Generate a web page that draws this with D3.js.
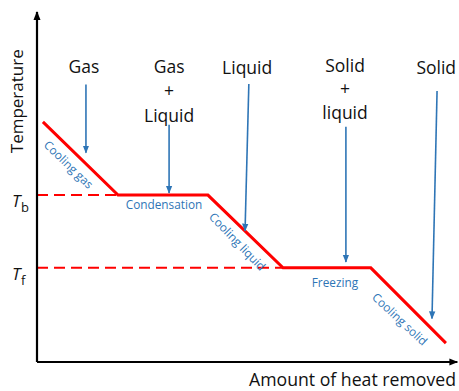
<!DOCTYPE html>
<html>
<head>
<meta charset="utf-8">
<script src="https://cdn.jsdelivr.net/npm/d3@7"></script>
<style>
  html, body { margin: 0; padding: 0; background: #fff; }
  svg { display: block; }
</style>
</head>
<body>
<svg id="chart" width="459" height="391"></svg>
<script>
// Cooling curve: heat removed (x) vs temperature (y), arbitrary units 0-100
const heat = [1.4, 19.2, 40.5, 58.3, 79.1, 96.9];
const temperature = [68.6, 47.7, 47.7, 26.9, 26.9, 5.4];

// Reference temperatures
const tempLabels = ["b", "f"];
const tempValues = [47.7, 26.9];

// Phase labels above the curve, with arrows pointing down to the curve
const phaseNames = [["Gas"], ["Gas", "+", "Liquid"], ["Liquid"], ["Solid", "+", "liquid"], ["Solid"]];
const phaseX = [11.1, 31.3, 49.8, 73.0, 94.6];
const phaseTextY = [82.7, 82.7, 82.3, 83.0, 82.3];
const phaseLineGap = [24.5, 24.5, 24.5, 23.5, 24.5];
const arrowTopX = [11.6, 31.3, 50.2, 73.2, 94.8];
const arrowTopY = [79.3, 67.8, 79.4, 67.2, 77.4];
const arrowBotX = [11.6, 31.3, 49.3, 73.2, 93.6];
const arrowBotY = [59.8, 48.3, 37.5, 28.6, 12.4];

// Process labels along each segment
const processNames = ["Cooling gas", "Condensation", "Cooling liquid", "Freezing", "Cooling solid"];
const processX = [7.3, 30.1, 47.3, 70.6, 85.8];
const processY = [56.2, 44.6, 34.2, 22.2, 12.0];
const processAngle = [44, 0, 46, 0, 43];

const svg = d3.select("#chart");
const x = d3.scaleLinear().domain([0, 100]).range([37, 459]);
const y = d3.scaleLinear().domain([0, 100]).range([362, 12]);

const red = "#ff0000";
const blue = "#2e75b6";
const font = "'Open Sans', 'Noto Sans', sans-serif";

const defs = svg.append("defs");
defs.append("marker").attr("id", "axisHead")
  .attr("viewBox", "0 0 10 10").attr("refX", 9).attr("refY", 5)
  .attr("markerWidth", 4).attr("markerHeight", 4).attr("orient", "auto")
  .append("path").attr("d", "M0,1 L10,5 L0,9 Z").attr("fill", "#000");
defs.append("marker").attr("id", "blueHead")
  .attr("viewBox", "0 0 10 10").attr("refX", 9).attr("refY", 5)
  .attr("markerWidth", 5).attr("markerHeight", 5).attr("orient", "auto")
  .append("path").attr("d", "M0,1 L10,5 L0,9 Z").attr("fill", blue);

// Dashed reference lines for boiling and freezing points
const pts = heat.map((h, i) => [h, temperature[i]]);
const ends = [pts[1][0], pts[3][0]];
svg.selectAll("line.ref").data(tempValues).join("line")
  .attr("class", "ref")
  .attr("x1", x(0)).attr("x2", (d, i) => x(ends[i]))
  .attr("y1", d => y(d)).attr("y2", d => y(d))
  .attr("stroke", red).attr("stroke-width", 2)
  .attr("stroke-dasharray", "11,6");

// Axes with arrowheads
svg.append("path")
  .attr("d", `M${x(0)},${y(0)} L${x(0)},${y(100)}`)
  .attr("stroke", "#000").attr("stroke-width", 2.2).attr("fill", "none")
  .attr("marker-end", "url(#axisHead)");
svg.append("path")
  .attr("d", `M${x(0)},${y(0)} L${x(99.6)},${y(0)}`)
  .attr("stroke", "#000").attr("stroke-width", 2.2).attr("fill", "none")
  .attr("marker-end", "url(#axisHead)");

// Cooling curve
svg.append("path").datum(pts)
  .attr("d", d3.line().x(d => x(d[0])).y(d => y(d[1])))
  .attr("fill", "none").attr("stroke", red).attr("stroke-width", 3)
  .attr("stroke-linejoin", "miter");

// Axis titles
svg.append("text")
  .attr("transform", `translate(23,${y(74.5)}) rotate(-90)`)
  .attr("text-anchor", "middle").attr("font-family", font).attr("font-size", 17)
  .attr("fill", "#111").text("Temperature");
svg.append("text")
  .attr("x", 249).attr("y", 386)
  .attr("font-family", font).attr("font-size", 17.5).attr("fill", "#111")
  .attr("textLength", 207).attr("lengthAdjust", "spacingAndGlyphs")
  .text("Amount of heat removed");

// T_b / T_f labels
const tl = svg.selectAll("text.tl").data(tempValues).join("text")
  .attr("class", "tl").attr("x", 12).attr("y", d => y(d) + 12)
  .attr("font-family", font).attr("fill", "#111");
tl.append("tspan").attr("font-style", "italic").attr("font-size", 17).text("T");
tl.append("tspan").attr("font-size", 13).attr("dx", 0.5).attr("dy", 5).text((d, i) => tempLabels[i]);

// Phase labels
phaseNames.forEach((lines, i) => {
  const t = svg.append("text")
    .attr("x", x(phaseX[i])).attr("y", y(phaseTextY[i]))
    .attr("text-anchor", "middle").attr("font-family", font)
    .attr("font-size", 17.5).attr("fill", "#111");
  lines.forEach((s, j) => {
    t.append("tspan").attr("x", x(phaseX[i])).attr("dy", j === 0 ? 0 : phaseLineGap[i]).text(s);
  });
});

// Arrows from phase labels to the curve
svg.selectAll("line.arrow").data(arrowTopX).join("line")
  .attr("class", "arrow")
  .attr("x1", d => x(d)).attr("y1", (d, i) => y(arrowTopY[i]))
  .attr("x2", (d, i) => x(arrowBotX[i])).attr("y2", (d, i) => y(arrowBotY[i]))
  .attr("stroke", blue).attr("stroke-width", 1.6)
  .attr("marker-end", "url(#blueHead)");

// Process labels along the curve
svg.selectAll("text.proc").data(processNames).join("text")
  .attr("class", "proc")
  .attr("transform", (d, i) => `translate(${x(processX[i])},${y(processY[i])}) rotate(${processAngle[i]})`)
  .attr("text-anchor", "middle").attr("dominant-baseline", "middle")
  .attr("font-family", font).attr("font-size", 11.8).attr("fill", blue)
  .text(d => d);
</script>
</body>
</html>
